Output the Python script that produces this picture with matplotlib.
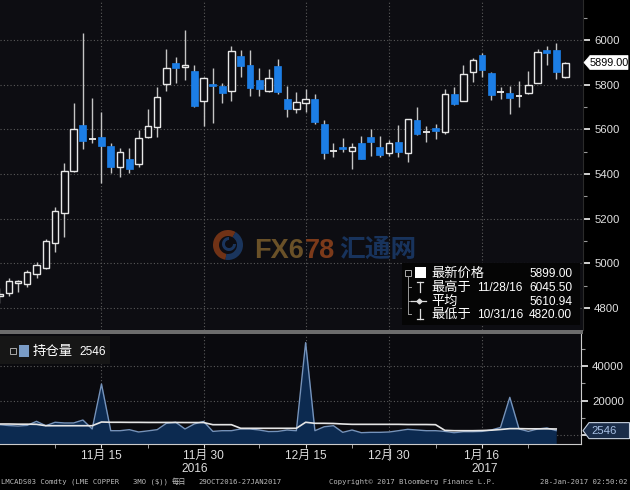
import matplotlib
matplotlib.use('Agg')
import matplotlib.pyplot as plt
from matplotlib.patches import Rectangle, Wedge, Polygon
from matplotlib.ticker import MultipleLocator, FixedLocator
import numpy as np

# ---------------- data ----------------
dates = ['10/31', '11/01', '11/02', '11/03', '11/04', '11/07', '11/08', '11/09', '11/10', '11/11',
         '11/14', '11/15', '11/16', '11/17', '11/18', '11/21', '11/22', '11/23', '11/24', '11/25',
         '11/28', '11/29', '11/30', '12/01', '12/02', '12/05', '12/06', '12/07', '12/08', '12/09',
         '12/12', '12/13', '12/14', '12/15', '12/16', '12/19', '12/20', '12/21', '12/22', '12/23',
         '12/28', '12/29', '12/30', '01/03', '01/04', '01/05', '01/06', '01/09', '01/10', '01/11',
         '01/12', '01/13', '01/16', '01/17', '01/18', '01/19', '01/20', '01/23', '01/24', '01/25',
         '01/26', '01/27']
open_ = [4855, 4866, 4912, 4906, 4951, 4980, 5090, 5227, 5415, 5618,
         5557, 5567, 5525, 5433, 5466, 5445, 5564, 5609, 5802, 5898,
         5880, 5861, 5728, 5803, 5794, 5772, 5928, 5888, 5821, 5772,
         5885, 5736, 5690, 5719, 5734, 5622, 5502, 5522, 5504, 5540,
         5564, 5520, 5495, 5545, 5493, 5642, 5588, 5607, 5590, 5758,
         5727, 5858, 5933, 5854, 5767, 5764, 5747, 5761, 5809, 5955,
         5955, 5833]
high = [4890, 4934, 4924, 4970, 5005, 5110, 5251, 5448, 5717, 6030,
        5739, 5679, 5537, 5515, 5515, 5597, 5690, 5788, 5958, 5922,
        6045.5, 5888, 5833, 5873, 5809, 5973, 5955, 5955, 5876, 5869,
        5913, 5794, 5766, 5779, 5757, 5642, 5537, 5560, 5540, 5570,
        5600, 5570, 5552, 5619, 5648, 5701, 5615, 5624, 5779, 5791,
        5888, 5918, 5940, 5858, 5791, 5794, 5816, 5863, 5958, 5973,
        5985, 5900]
low = [4820, 4854, 4873, 4895, 4933, 4975, 5052, 5119, 5410, 5511,
       5537, 5361, 5403, 5388, 5403, 5433, 5560, 5567, 5772, 5809,
       5821, 5699, 5615, 5630, 5719, 5728, 5836, 5749, 5749, 5769,
       5758, 5657, 5672, 5679, 5624, 5466, 5477, 5500, 5421, 5466,
       5480, 5477, 5480, 5477, 5455, 5575, 5545, 5555, 5578, 5710,
       5725, 5813, 5836, 5731, 5734, 5669, 5699, 5758, 5806, 5888,
       5824, 5830]
close = [4862, 4921, 4920, 4960, 4992, 5100, 5234, 5415, 5601, 5549,
         5560, 5525, 5433, 5497, 5422, 5560, 5615, 5743, 5873, 5876,
         5886, 5704, 5828, 5793, 5761, 5952, 5885, 5784, 5781, 5828,
         5769, 5690, 5724, 5734, 5634, 5495, 5506, 5512, 5520, 5466,
         5545, 5485, 5537, 5500, 5645, 5579, 5592, 5592, 5758, 5712,
         5846, 5910, 5866, 5754, 5771, 5742, 5751, 5799, 5948, 5940,
         5858, 5899]
open_interest = [6000, 5500, 5200, 5600, 7950, 5400, 7400, 7000, 7000, 8700,
                 3500, 29650, 2500, 2500, 3100, 1750, 2400, 3100, 6800, 7400,
                 3500, 6400, 7900, 2100, 2500, 2500, 3500, 3500, 2900, 2000,
                 2100, 2900, 2500, 53700, 2500, 4800, 5400, 1550, 2900, 1350,
                 1550, 1550, 1750, 2500, 3300, 2900, 2500, 2500, 2100, 1350,
                 1900, 1900, 2100, 2900, 4400, 21900, 3500, 2100, 3500, 4100,
                 2546]
oi_average = [6400, 6400, 6300, 6300, 6200, 5400, 5400, 5400, 5400, 5400,
              5400, 7550, 7400, 7400, 7350, 7350, 7300, 7300, 7300, 7300,
              7250, 7250, 7250, 6000, 6000, 6000, 3900, 3900, 3900, 3900,
              3900, 3900, 3900, 7400, 6800, 6800, 6700, 6400, 6200, 6200,
              6200, 6200, 6200, 6200, 6100, 6100, 6100, 6000, 2700, 2500,
              2500, 2500, 2600, 2800, 3200, 3700, 3700, 3600, 3600, 3600,
              3500]
price_ticks = [4800, 5000, 5200, 5400, 5600, 5800, 6000]
oi_ticks = [0, 20000, 40000]
oi_tick_labels = ['', '20000', '40000']
major_dates = ['11/15', '11/30', '12/15', '12/30', '01/16']
major_labels = ['11月 15', '11月 30', '12月 15', '12月 30', '1月 16']
minor_dates = ['11/08', '11/22', '12/08', '12/22', '01/09', '01/23']
legend_rows = [('最新价格', '', '5899.00'),
               ('最高于', '11/28/16', '6045.50'),
               ('平均', '', '5610.94'),
               ('最低于', '10/31/16', '4820.00')]
last_price = 5899.00
oi_last = 2546

# ---------------- layout ----------------
W, H = 630, 490
PX_DAY, PX0 = 9.28, -0.6
NUMF = ['Liberation Sans', 'Noto Sans CJK SC']
CJK = ['Noto Sans CJK SC', 'DejaVu Sans']
BG = '#0d0d12'
BLUE = '#1c7ee6'
GRID = '#5a5a5a'

fig = plt.figure(figsize=(6.3, 4.9), dpi=100, facecolor='black')

def box(x0, y0, x1, y1):
    return [x0 / W, 1 - y1 / H, (x1 - x0) / W, (y1 - y0) / H]

ax1 = fig.add_axes(box(0, 0, 583, 330))
ax2 = fig.add_axes(box(0, 334, 581, 444))

x = np.arange(len(dates))
o = np.array(open_); c = np.array(close); hi = np.array(high); lo = np.array(low)

# ---- price panel ----
ax1.set_facecolor(BG)
ax1.vlines(x, lo, hi, color='#c4c4c4', lw=1.0, zorder=2)
for i in x:
    bot, top = min(o[i], c[i]), max(o[i], c[i])
    if top - bot < 6:
        ax1.hlines((o[i] + c[i]) / 2, i - 0.36, i + 0.36, color='#eeeeee', lw=1.3, zorder=3)
    elif c[i] >= o[i]:
        ax1.bar(i, top - bot, bottom=bot, width=0.68, facecolor=BG, edgecolor='#e8e8e8',
                lw=1.0, zorder=3)
    else:
        ax1.bar(i, top - bot, bottom=bot, width=0.74, facecolor=BLUE, edgecolor=BLUE,
                lw=0.5, zorder=3)

ax1.set_xlim((0 - PX0) / PX_DAY, (583 - PX0) / PX_DAY)
ax1.set_ylim(4701, 6179)
maj_idx = [dates.index(d) for d in major_dates]
min_idx = [dates.index(d) for d in minor_dates]
ax1.set_xticks(maj_idx)
ax1.tick_params(axis='x', length=0, labelbottom=False)
ax1.yaxis.tick_right()
ax1.set_yticks(price_ticks)
ax1.yaxis.set_minor_locator(MultipleLocator(100))
ax1.tick_params(axis='y', which='major', direction='out', length=5, width=1.3,
                colors='#e0e0e0', labelsize=8.2, pad=3)
ax1.tick_params(axis='y', which='minor', direction='out', length=3, width=0.8, colors='#9a9a9a')
for lab in ax1.get_yticklabels():
    lab.set_family(NUMF)
ax1.grid(True, which='major', ls=(0, (1, 2)), color=GRID, lw=0.8)
for s in ['top', 'left', 'bottom']:
    ax1.spines[s].set_visible(False)
ax1.spines['right'].set_color('#2a2a2a')
ax1.set_axisbelow(True)

# ---- open interest panel ----
ax2.set_facecolor('#0a0a0e')
xo = np.arange(len(open_interest))
OI_BOTTOM = -5230
ax2.fill_between(xo, open_interest, OI_BOTTOM, color='#0c2a50', lw=0, zorder=1)
ax2.plot(xo, open_interest, color='#7593bb', lw=1.0, zorder=3)
ax2.plot(xo, oi_average, color='#e6e6e6', lw=1.2, zorder=4)
ax2.set_xlim((0 - PX0) / PX_DAY, (581 - PX0) / PX_DAY)
ax2.set_ylim(OI_BOTTOM, 58720)
ax2.yaxis.tick_right()
ax2.set_yticks(oi_ticks, oi_tick_labels)
ax2.yaxis.set_minor_locator(MultipleLocator(10000))
ax2.tick_params(axis='y', which='major', direction='out', length=5, width=1.3,
                colors='#e0e0e0', labelsize=8.2, pad=3)
ax2.tick_params(axis='y', which='minor', direction='out', length=3, width=0.8, colors='#9a9a9a')
for lab in ax2.get_yticklabels():
    lab.set_family(NUMF)
ax2.set_xticks(maj_idx, major_labels)
ax2.xaxis.set_minor_locator(FixedLocator(min_idx))
ax2.tick_params(axis='x', which='major', direction='out', length=3, colors='#dddddd',
                labelsize=8.6, pad=1)
ax2.tick_params(axis='x', which='minor', direction='out', length=3, colors='#bbbbbb')
for lab in ax2.get_xticklabels():
    lab.set_family(NUMF)
ax2.grid(True, which='major', ls=(0, (1, 2)), color=GRID, lw=0.8)
for s in ['top', 'left']:
    ax2.spines[s].set_visible(False)
ax2.spines['right'].set_color('#cccccc')
ax2.spines['bottom'].set_color('#cccccc')
ax2.set_axisbelow(True)

# ---------------- overlay (pixel coordinates) ----------------
ov = fig.add_axes([0, 0, 1, 1], zorder=10)
ov.set_xlim(0, W); ov.set_ylim(H, 0); ov.axis('off'); ov.patch.set_alpha(0)

def pix_y(ax, val):
    return H - ax.transData.transform((0, val))[1]

# last-price marker on the price axis
py = pix_y(ax1, last_price)
ov.add_patch(Polygon([(584, py), (590, py - 7), (628, py - 7), (628, py + 7), (590, py + 7)],
                     closed=True, facecolor='white', edgecolor='white', lw=0.5))
ov.text(609, py + 0.5, '%.2f' % last_price, fontsize=7.8, color='black', family=NUMF,
        ha='center', va='center')

# last open-interest marker
py2 = pix_y(ax2, oi_last)
ov.add_patch(Polygon([(583, py2), (589, py2 - 8), (629.5, py2 - 8), (629.5, py2 + 8), (589, py2 + 8)],
                     closed=True, facecolor='#1a2c48', edgecolor='#c8d2e0', lw=0.8))
ov.text(591, py2 + 0.5, str(oi_last), fontsize=8.2, color='#a8c0e4', family=NUMF,
        ha='left', va='center')

# separator bar between panels
ov.add_patch(Rectangle((0, 330), 583, 4, facecolor='#6c6c6c', edgecolor='none'))

# watermark
ov.add_patch(Wedge((228, 245), 15, 100, 300, width=6, facecolor='#8a3c18', alpha=0.8))
ov.add_patch(Wedge((228, 245), 15, 300, 100, width=6, facecolor='#1c3a66', alpha=0.9))
ov.add_patch(Wedge((229, 244), 7, 0, 270, width=3, facecolor='#1c3a66', alpha=0.9))
ov.text(254, 258, 'FX6', fontsize=19.5, fontweight='bold', color='#6a5128',
        family=['Liberation Sans', 'DejaVu Sans'], ha='left', va='baseline')
ov.text(335, 258, '78', fontsize=19.5, fontweight='bold', color='#7c3a1a',
        family=['Liberation Sans', 'DejaVu Sans'], ha='right', va='baseline')
ov.text(339, 257, '汇通网', fontsize=18.5, fontweight='bold', color='#18335c',
        family=CJK, ha='left', va='baseline')

# price legend
ov.add_patch(Rectangle((402, 263), 178, 62, facecolor='#050505', edgecolor='none'))
row_y = [273, 287, 301, 314]
ov.add_patch(Rectangle((405, 270), 6, 6, facecolor='none', edgecolor='#aaaaaa', lw=0.7))
ov.plot([408, 408], [276, 314], color='#999999', lw=0.7)
for yy in row_y[1:]:
    ov.plot([408, 411], [yy, yy], color='#999999', lw=0.7)
ov.add_patch(Rectangle((415, 267), 11, 11, facecolor='white', edgecolor='none'))
ov.plot([419.5, 419.5], [282, 292], color='#dddddd', lw=0.9)
ov.plot([416.5, 422.5], [282, 282], color='#dddddd', lw=0.9)
ov.plot([411, 426], [301, 301], color='#dddddd', lw=0.9)
ov.plot([418.5], [301], marker='D', ms=2.5, color='#dddddd')
ov.plot([419.5, 419.5], [309, 319], color='#dddddd', lw=0.9)
ov.plot([416.5, 422.5], [319, 319], color='#dddddd', lw=0.9)
for (name, dt, val), yy in zip(legend_rows, row_y):
    ov.text(431, yy, name, fontsize=9.5, color='white', family=CJK, ha='left', va='center')
    if dt:
        ov.text(477, yy + 0.5, dt, fontsize=8.6, color='white', family=NUMF, ha='left', va='center')
    ov.text(572, yy + 0.5, val, fontsize=8.6, color='white', family=NUMF, ha='right', va='center')

# open interest legend
ov.add_patch(Rectangle((0, 336), 110, 28, facecolor='#161616', edgecolor='none'))
ov.add_patch(Rectangle((10, 348), 6, 6, facecolor='none', edgecolor='#aaaaaa', lw=0.7))
ov.add_patch(Rectangle((19, 345), 10, 12, facecolor='#7a9cc6', edgecolor='none'))
ov.text(33, 351, '持仓量', fontsize=9.6, color='white', family=CJK, ha='left', va='center')
ov.text(79, 352, str(oi_last), fontsize=8.6, color='white', family=NUMF, ha='left', va='center')

# year labels and year separator
ov.text(195, 468.5, '2016', fontsize=8.6, color='#dddddd', family=NUMF, ha='center', va='center')
ov.text(485, 468.5, '2017', fontsize=8.6, color='#dddddd', family=NUMF, ha='center', va='center')
ov.plot([389, 389], [444, 460], color='#888888', lw=0.8)

# footer
MONO = ['DejaVu Sans Mono', 'Noto Sans CJK SC']
FS = 5.2
ov.text(1, 482, 'LMCADS03 Comdty (LME COPPER', fontsize=FS, color='#bbbbbb', family=MONO,
        ha='left', va='center')
ov.text(133, 482, '3MO ($))', fontsize=FS, color='#bbbbbb', family=MONO, ha='left', va='center')
ov.text(172, 482, '每日', fontsize=FS, color='#bbbbbb', family=CJK, ha='left', va='center')
ov.text(198, 482, '29OCT2016-27JAN2017', fontsize=FS, color='#bbbbbb', family=MONO,
        ha='left', va='center')
ov.text(329, 482, 'Copyright\u00a9 2017 Bloomberg Finance L.P.', fontsize=FS, color='#bbbbbb',
        family=MONO, ha='left', va='center')
ov.text(628, 482, '28-Jan-2017 02:50:02', fontsize=FS, color='#bbbbbb', family=MONO,
        ha='right', va='center')

fig.savefig('out.png', dpi=100, facecolor='black')
